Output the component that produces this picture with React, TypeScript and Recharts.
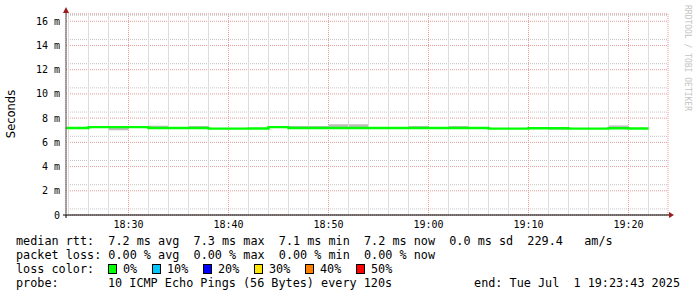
import { ComposedChart, Line, Area, XAxis, YAxis, CartesianGrid, ReferenceLine } from "recharts";

// step start times (each RRD step is 120s), last entry closes the final step
const stepStarts = [
  "18:22", "18:24", "18:26", "18:28", "18:30", "18:32", "18:34", "18:36",
  "18:38", "18:40", "18:42", "18:44", "18:46", "18:48", "18:50", "18:52",
  "18:54", "18:56", "18:58", "19:00", "19:02", "19:04", "19:06", "19:08",
  "19:10", "19:12", "19:14", "19:16", "19:18", "19:20", "19:22",
];
// median rtt in ms
const medianMs = [
  7.18, 7.18, 7.26, 7.26, 7.26, 7.18, 7.18, 7.18,
  7.13, 7.13, 7.15, 7.26, 7.18, 7.18, 7.18, 7.18,
  7.18, 7.18, 7.18, 7.18, 7.18, 7.18, 7.13, 7.13,
  7.17, 7.17, 7.13, 7.13, 7.17, 7.15, 7.15,
];
// smoke (spread of the pings) in ms
const smokeLowMs = [
  7.18, 7.18, 7.26, 7.0, 7.26, 7.18, 7.18, 7.18,
  7.13, 7.13, 7.15, 7.26, 7.18, 7.18, 7.18, 7.18,
  7.18, 7.18, 7.18, 7.18, 7.18, 7.18, 7.13, 7.13,
  7.17, 7.04, 7.13, 7.13, 7.17, 7.15, 7.15,
];
const smokeHighMs = [
  7.18, 7.18, 7.26, 7.3, 7.26, 7.38, 7.18, 7.36,
  7.13, 7.13, 7.15, 7.26, 7.36, 7.36, 7.5, 7.5,
  7.18, 7.18, 7.34, 7.18, 7.34, 7.18, 7.13, 7.13,
  7.17, 7.17, 7.13, 7.13, 7.4, 7.15, 7.15,
];

const timeTicks = ["18:30", "18:40", "18:50", "19:00", "19:10", "19:20"];
const minorTimes = [
  "18:24", "18:26", "18:28", "18:32", "18:34", "18:36", "18:38", "18:42",
  "18:44", "18:46", "18:48", "18:52", "18:54", "18:56", "18:58", "19:02",
  "19:04", "19:06", "19:08", "19:12", "19:14", "19:16", "19:18", "19:22",
];
const valueTicks = [0, 2, 4, 6, 8, 10, 12, 14, 16];
const viewStart = "18:23:45";
const viewEnd = "19:23:57";

const lossColors = ["#00ff00", "#00c8ff", "#0000ff", "#ffe600", "#ff7f00", "#ff0000"];
const lossLabels = ["0%", "10%", "20%", "30%", "40%", "50%"];
const lossBoxX = [108, 152, 203, 254, 305, 356];

const rttRow = "median rtt:  7.2 ms avg  7.3 ms max  7.1 ms min  7.2 ms now  0.0 ms sd  229.4   am/s";
const lossRow = "packet loss: 0.00 % avg  0.00 % max  0.00 % min  0.00 % now";
const probeLabel = "probe:";
const probeText = "10 ICMP Echo Pings (56 Bytes) every 120s";
const endText = "end: Tue Jul  1 19:23:43 2025";

const toMin = (s: string) => {
  const [h, m, sec] = s.split(":").map(Number);
  return h * 60 + m + (sec || 0) / 60;
};
const fmtMin = (v: number) => {
  const h = Math.floor(v / 60);
  const m = Math.round(v - h * 60);
  return `${h}:${String(m).padStart(2, "0")}`;
};

const data = stepStarts.map((t, i) => ({
  t: toMin(t),
  median: medianMs[i],
  smoke: [smokeLowMs[i], smokeHighMs[i]],
}));

const x0 = toMin(viewStart);
const x1 = toMin(viewEnd);
const yMax = 16.6;

// minor grid: every 0.5 ms
const minorH: number[] = [];
for (let v = 0.5; v < yMax; v += 0.5) if (v % 2 !== 0) minorH.push(v);
const majorV = timeTicks.map(toMin);
const minorV = minorTimes.map(toMin);

const mono = "'DejaVu Sans Mono', monospace";
const arrowColor = "#9b1c1c";
const minorColor = "#c4c4c4";
const majorColor = "#e69a9a";

const YArrow = (props: any) => {
  const vb = props.viewBox || {};
  const ax = vb.x + vb.width;
  const top = vb.y;
  return (
    <g>
      <line x1={ax} y1={top} x2={ax} y2={top - 4} stroke="#555" />
      <path d={`M${ax - 3},${top - 1} L${ax + 3},${top - 1} L${ax},${top - 7} Z`} fill={arrowColor} />
    </g>
  );
};

const XArrow = (props: any) => {
  const vb = props.viewBox || {};
  const right = vb.x + vb.width;
  const ay = vb.y;
  return (
    <g>
      <line x1={vb.x - 3} y1={ay} x2={right + 2} y2={ay} stroke="#000" />
      <line x1={vb.x} y1={ay} x2={vb.x} y2={ay + 3} stroke="#000" />
      <path d={`M${right + 1},${ay - 3} L${right + 1},${ay + 3} L${right + 6},${ay} Z`} fill={arrowColor} />
    </g>
  );
};

const textRow = (top: number): React.CSSProperties => ({
  position: "absolute",
  top,
  lineHeight: "14px",
  fontFamily: mono,
  fontSize: 11.8,
  color: "#000",
  whiteSpace: "pre",
});

export default function App() {
  return (
    <div style={{ position: "absolute", left: 0, top: 0, width: 697, height: 297, background: "#fff" }}>
      <ComposedChart
        width={697}
        height={297}
        data={data}
        margin={{ top: 14, right: 29, bottom: 0, left: 0 }}
      >
        <YAxis
          yAxisId="minor"
          type="number"
          domain={[0, yMax]}
          allowDataOverflow
          ticks={minorH}
          hide
        />
        <CartesianGrid yAxisId="minor" vertical={false} stroke={minorColor} strokeDasharray="1 1" />
        {minorV.map((v) => (
          <ReferenceLine key={`mv${v}`} x={v} stroke="#dcdcdc" strokeWidth={1} />
        ))}
        <CartesianGrid stroke={majorColor} strokeDasharray="1 1" />
        <XAxis
          dataKey="t"
          type="number"
          domain={[x0, x1]}
          allowDataOverflow
          ticks={majorV}
          tickFormatter={fmtMin}
          height={82}
          tickSize={0}
          tickMargin={6}
          axisLine={false}
          tickLine={false}
          tick={{ fontFamily: mono, fontSize: 10, fill: "#000" }}
          label={{ content: XArrow }}
        />
        <YAxis
          type="number"
          domain={[0, yMax]}
          allowDataOverflow
          ticks={valueTicks}
          tickFormatter={(v: number) => (v === 0 ? "0" : `${v} m`)}
          width={66}
          tickSize={0}
          tickMargin={6}
          axisLine={{ stroke: "#555" }}
          tickLine={false}
          tick={{ fontFamily: mono, fontSize: 10, fill: "#000" }}
          label={{ content: YArrow }}
        />
        <Area
          dataKey="smoke"
          type="stepAfter"
          fill="#bdbdbd"
          fillOpacity={1}
          stroke="none"
          isAnimationActive={false}
        />
        <Line
          dataKey="median"
          type="stepAfter"
          stroke="#00ff00"
          strokeWidth={2.4}
          dot={false}
          activeDot={false}
          isAnimationActive={false}
        />
      </ComposedChart>

      <svg width={697} height={297} style={{ position: "absolute", left: 0, top: 0, pointerEvents: "none" }}>
        <text
          x={15}
          y={114}
          transform="rotate(-90 15 114)"
          textAnchor="middle"
          fontFamily="'DejaVu Sans', sans-serif"
          fontSize={11.5}
          fill="#000"
        >
          Seconds
        </text>
        <text
          x={685}
          y={5}
          transform="rotate(90 685 5)"
          fontFamily={mono}
          fontSize={8}
          fill="#c4c4c4"
        >
          RRDTOOL / TOBI OETIKER
        </text>
      </svg>

      <div style={{ ...textRow(234), left: 16 }}>{rttRow}</div>
      <div style={{ ...textRow(248), left: 16 }}>{lossRow}</div>
      <div style={{ ...textRow(262), left: 16 }}>loss color:</div>
      {lossColors.map((c, i) => (
        <div key={c}>
          <div
            style={{
              position: "absolute",
              left: lossBoxX[i],
              top: 264,
              width: 7,
              height: 8,
              background: c,
              border: "1px solid #000",
            }}
          />
          <div style={{ ...textRow(262), left: lossBoxX[i] + 15 }}>{lossLabels[i]}</div>
        </div>
      ))}
      <div style={{ ...textRow(276), left: 16 }}>{probeLabel}</div>
      <div style={{ ...textRow(276), left: 108 }}>{probeText}</div>
      <div style={{ ...textRow(276), right: 17 }}>{endText}</div>
    </div>
  );
}
